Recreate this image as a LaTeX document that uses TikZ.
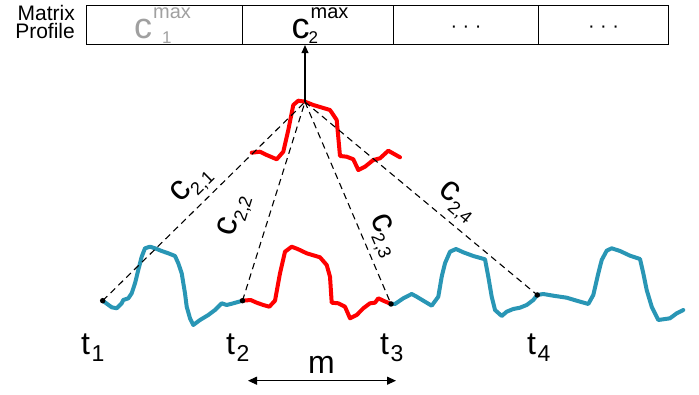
\documentclass[tikz,border=0pt]{standalone}
\usepackage{fontspec}
\setmainfont{Liberation Sans}
\usetikzlibrary{arrows.meta}
\definecolor{tsblue}{RGB}{41,150,181}
\definecolor{tsred}{RGB}{255,0,0}
\definecolor{mpgray}{RGB}{160,160,160}
\newcommand\bigfs{\fontsize{36}{36}\selectfont}
\newcommand\cmaxlab[2]{\bigfs c\fontsize{20}{20}\selectfont\kern1pt\rlap{\raisebox{20pt}{max}}\rlap{\kern#2\raisebox{-4.5pt}{\fontsize{17}{17}\selectfont #1}}\phantom{max}}
\newcommand\clab[1]{{\fontsize{35}{35}\selectfont c}\raisebox{-7pt}{\fontsize{18}{18}\selectfont #1}}
\newcommand\tlab[1]{\fontsize{32}{32}\selectfont t\kern1.5pt\raisebox{-7pt}{\fontsize{23}{23}\selectfont #1}}
\tikzset{
  cellbox/.style={draw, line width=1.1pt, minimum height=39pt, inner sep=0pt, anchor=north west},
  curve/.style={line width=4pt, line join=round, line cap=round},
  bluecurve/.style={curve, tsblue},
  redcurve/.style={curve, tsred},
  dashline/.style={line width=1.1pt, dash pattern=on 6.5pt off 4.5pt},
  clabel/.style={sloped, above=5pt, inner sep=0pt},
  dotmark/.style={circle, fill=black, inner sep=0pt, minimum size=5.5pt},
  plain/.style={inner sep=0pt}
}
\begin{document}
\begin{tikzpicture}[x=1pt,y=-1pt]
\useasboundingbox (0,0) rectangle (699,395);
% matrix profile table
\node[cellbox, minimum width=156pt] (cell1) at (86,5) {};
\node[cellbox, minimum width=151pt] (cell2) at (242,5) {};
\node[cellbox, minimum width=145pt] (cell3) at (393,5) {};
\node[cellbox, minimum width=130pt] (cell4) at (538,5) {};
\node[plain, anchor=base east, font=\fontsize{21}{21}\selectfont] (mp1) at (75,20.7) {Matrix};
\node[plain, anchor=base east, font=\fontsize{21}{21}\selectfont] (mp2) at (75,38.3) {Profile};
\node[plain, anchor=base, text=mpgray] (cm1) at (162.5,38.8) {\cmaxlab{1}{9pt}};
\node[plain, anchor=base] (cm2) at (320,38.8) {\cmaxlab{2}{-2pt}};
\node[plain, font=\fontsize{20}{20}\selectfont, yshift=-4pt] (dots3) at (cell3.center) {\textperiodcentered\ \textperiodcentered\ \textperiodcentered};
\node[plain, font=\fontsize{20}{20}\selectfont, yshift=-4pt] (dots4) at (cell4.center) {\textperiodcentered\ \textperiodcentered\ \textperiodcentered};
% key points
\coordinate (t1) at (102.7,300.7);
\coordinate (t2) at (242.5,300.7);
\coordinate (t3) at (391,304);
\coordinate (t4) at (537.3,295);
\coordinate (apex) at (305,102);
% time series
\draw[bluecurve] plot coordinates {(102.7,300.7) (111.7,307.3) (116.7,308.3) (121.7,303.3) (123.3,300) (128.3,298.3) (131.7,293.3) (135,283.3) (138.3,270) (141.7,256.7) (145,248.3) (150,246.7) (155,248.3) (161.7,251) (168.3,253.3) (175,256) (178.3,263.3) (181.7,273.3) (185,293.3) (186.7,306.7) (190,318.3) (193.3,325) (200,320) (208.3,315) (215,310) (221.7,303.3) (226.7,305) (233.3,303.3) (242.5,300.7)};
\draw[bluecurve] plot coordinates {(391,304) (395,304) (403.3,298.3) (411.7,294) (416.7,296.7) (423.3,300.7) (431.7,305.7) (438.3,296.7) (441.7,276.7) (445,263.3) (450,251.7) (456,249) (463.3,252.3) (473.3,256) (485,259.3) (488.3,276.7) (491.7,296.7) (495,310) (501.7,316) (506.7,311.7) (513.3,309) (520,307.7) (526.7,305) (533.3,300) (537.3,295) (543.3,294) (553.3,295.7) (566.7,297.7) (576.7,300.7) (588.3,304) (593.3,295) (598.3,273.3) (601.7,260) (606.7,250.7) (611.7,248.3) (620,251) (630,255.7) (640,259) (643.3,273.3) (646.7,290) (651.7,306.7) (658.3,320) (670,318.3) (676.7,313.3) (683.3,310)};
\draw[redcurve] plot coordinates {(242.5,300.7) (250.7,300) (256.7,302.7) (263.3,305) (269.3,306.7) (275,300.7) (280,273.3) (285,251.7) (291.7,246.7) (298.3,249.3) (306.7,253.3) (320,257.3) (326.7,265) (330,276.7) (331.7,302.7) (338.3,303.3) (345,306.7) (350,318.3) (356.7,315) (363.3,308.3) (370,303.3) (375,302.7) (378.3,298.3) (383.3,300.7) (391,304)};
\draw[redcurve] plot coordinates {(251.7,152.7) (260,151.7) (266.7,155) (276.7,159.3) (283.3,151.7) (288.3,130) (293.3,105) (298.3,100.7) (305,101.7) (313.3,105) (330,110) (336.7,120) (340,156) (346.7,156.7) (353.3,159.3) (358.3,170) (365,166.7) (373.3,160) (380,158.3) (388.3,150.7) (400,157.3)};
% distances
\draw[dashline] (t1) -- (apex) node[clabel, pos=0.51] (c21) {\clab{2,1}};
\draw[dashline] (t2) -- (apex) node[clabel, above=13pt, pos=0.38] (c22) {\clab{2,2}};
\draw[dashline] (apex) -- (t3) node[clabel, pos=0.70] (c23) {\clab{2,3}};
\draw[dashline] (apex) -- (t4) node[clabel, pos=0.60] (c24) {\clab{2,4}};
\draw[line width=1.1pt, -{Triangle[width=7pt,length=8pt]}] (apex) -- (apex |- cell2.south);
% points
\node[dotmark] (d1) at (t1) {};
\node[dotmark] (d2) at (t2) {};
\node[dotmark] (d3) at (t3) {};
\node[dotmark] (d4) at (t4) {};
% time labels
\node[plain, anchor=base west] (lt1) at (81,355) {\tlab{1}};
\node[plain, anchor=base west] (lt2) at (226,355) {\tlab{2}};
\node[plain, anchor=base west] (lt3) at (380,355) {\tlab{3}};
\node[plain, anchor=base west] (lt4) at (527,355) {\tlab{4}};
% window length
\coordinate (mL) at (248,380.7);
\coordinate (mR) at (396,380.7);
\draw[line width=1.1pt, {Triangle[width=8pt,length=9pt]}-{Triangle[width=8pt,length=9pt]}] (mL) -- (mR);
\node[plain, anchor=base, font=\fontsize{32}{32}\selectfont] (mlab) at (321.5,373.3) {m};
\end{tikzpicture}
\end{document}
